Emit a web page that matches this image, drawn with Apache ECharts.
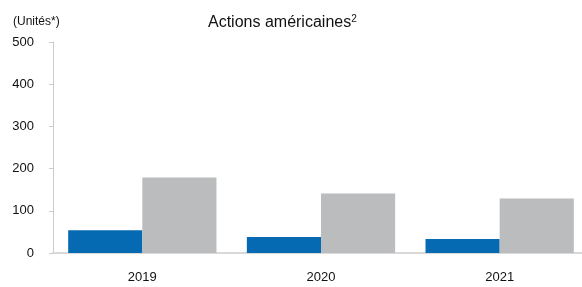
<!DOCTYPE html>
<html>
<head>
<meta charset="utf-8">
<script src="https://cdn.jsdelivr.net/npm/echarts@6/dist/echarts.min.js"></script>
<style>
  html, body { margin: 0; padding: 0; background: #fff; overflow: hidden; }
  #chart { width: 590px; height: 287px; }
</style>
</head>
<body>
<div id="chart"></div>
<script>
// categories and values
const years = ['2019', '2020', '2021']
const blueValues = [54, 38, 33]
const greyValues = [179, 141, 129]
const yTicks = [0, 100, 200, 300, 400, 500]

const font = 'Liberation Sans'
const chart = echarts.init(document.getElementById('chart'), null, { renderer: 'canvas' })

chart.setOption({
  animation: false,
  title: [{
    text: 'Actions américaines{sup|2}',
    left: 203,
    top: 9,
    textStyle: {
      fontFamily: font,
      fontSize: 16,
      fontWeight: 'normal',
      color: '#111',
      rich: {
        sup: { fontFamily: font, fontSize: 10, verticalAlign: 'top', padding: [0, 0, 8, 0], color: '#111' }
      }
    }
  }, {
    text: '(Unités*)',
    left: 8,
    top: 11,
    textStyle: { fontFamily: font, fontSize: 12, fontWeight: 'normal', color: '#111' }
  }],
  // the axis runs a little past the right edge of the window, as in the original
  grid: {
    left: 53,
    top: 42,
    right: 1,
    bottom: 34
  },
  xAxis: {
    type: 'category',
    data: years,
    axisLine: { lineStyle: { color: '#d9d9d9', width: 2 } },
    axisTick: { alignWithLabel: true, length: 5, lineStyle: { color: '#d9d9d9' } },
    axisLabel: { fontFamily: font, fontSize: 13, color: '#111', margin: 18 }
  },
  yAxis: {
    type: 'value',
    min: yTicks[0],
    max: yTicks[yTicks.length - 1],
    interval: 100,
    splitLine: { show: false },
    axisLine: { show: true, lineStyle: { color: '#cccccc' } },
    axisTick: { show: true, length: 4, lineStyle: { color: '#cccccc' } },
    axisLabel: { fontFamily: font, fontSize: 13, color: '#111', margin: 19 }
  },
  series: [{
    type: 'bar',
    data: blueValues,
    barGap: '0%',
    barCategoryGap: '17%',
    itemStyle: { color: '#066ab3' }
  }, {
    type: 'bar',
    data: greyValues,
    itemStyle: { color: '#bbbcbe' }
  }]
})
</script>
</body>
</html>
